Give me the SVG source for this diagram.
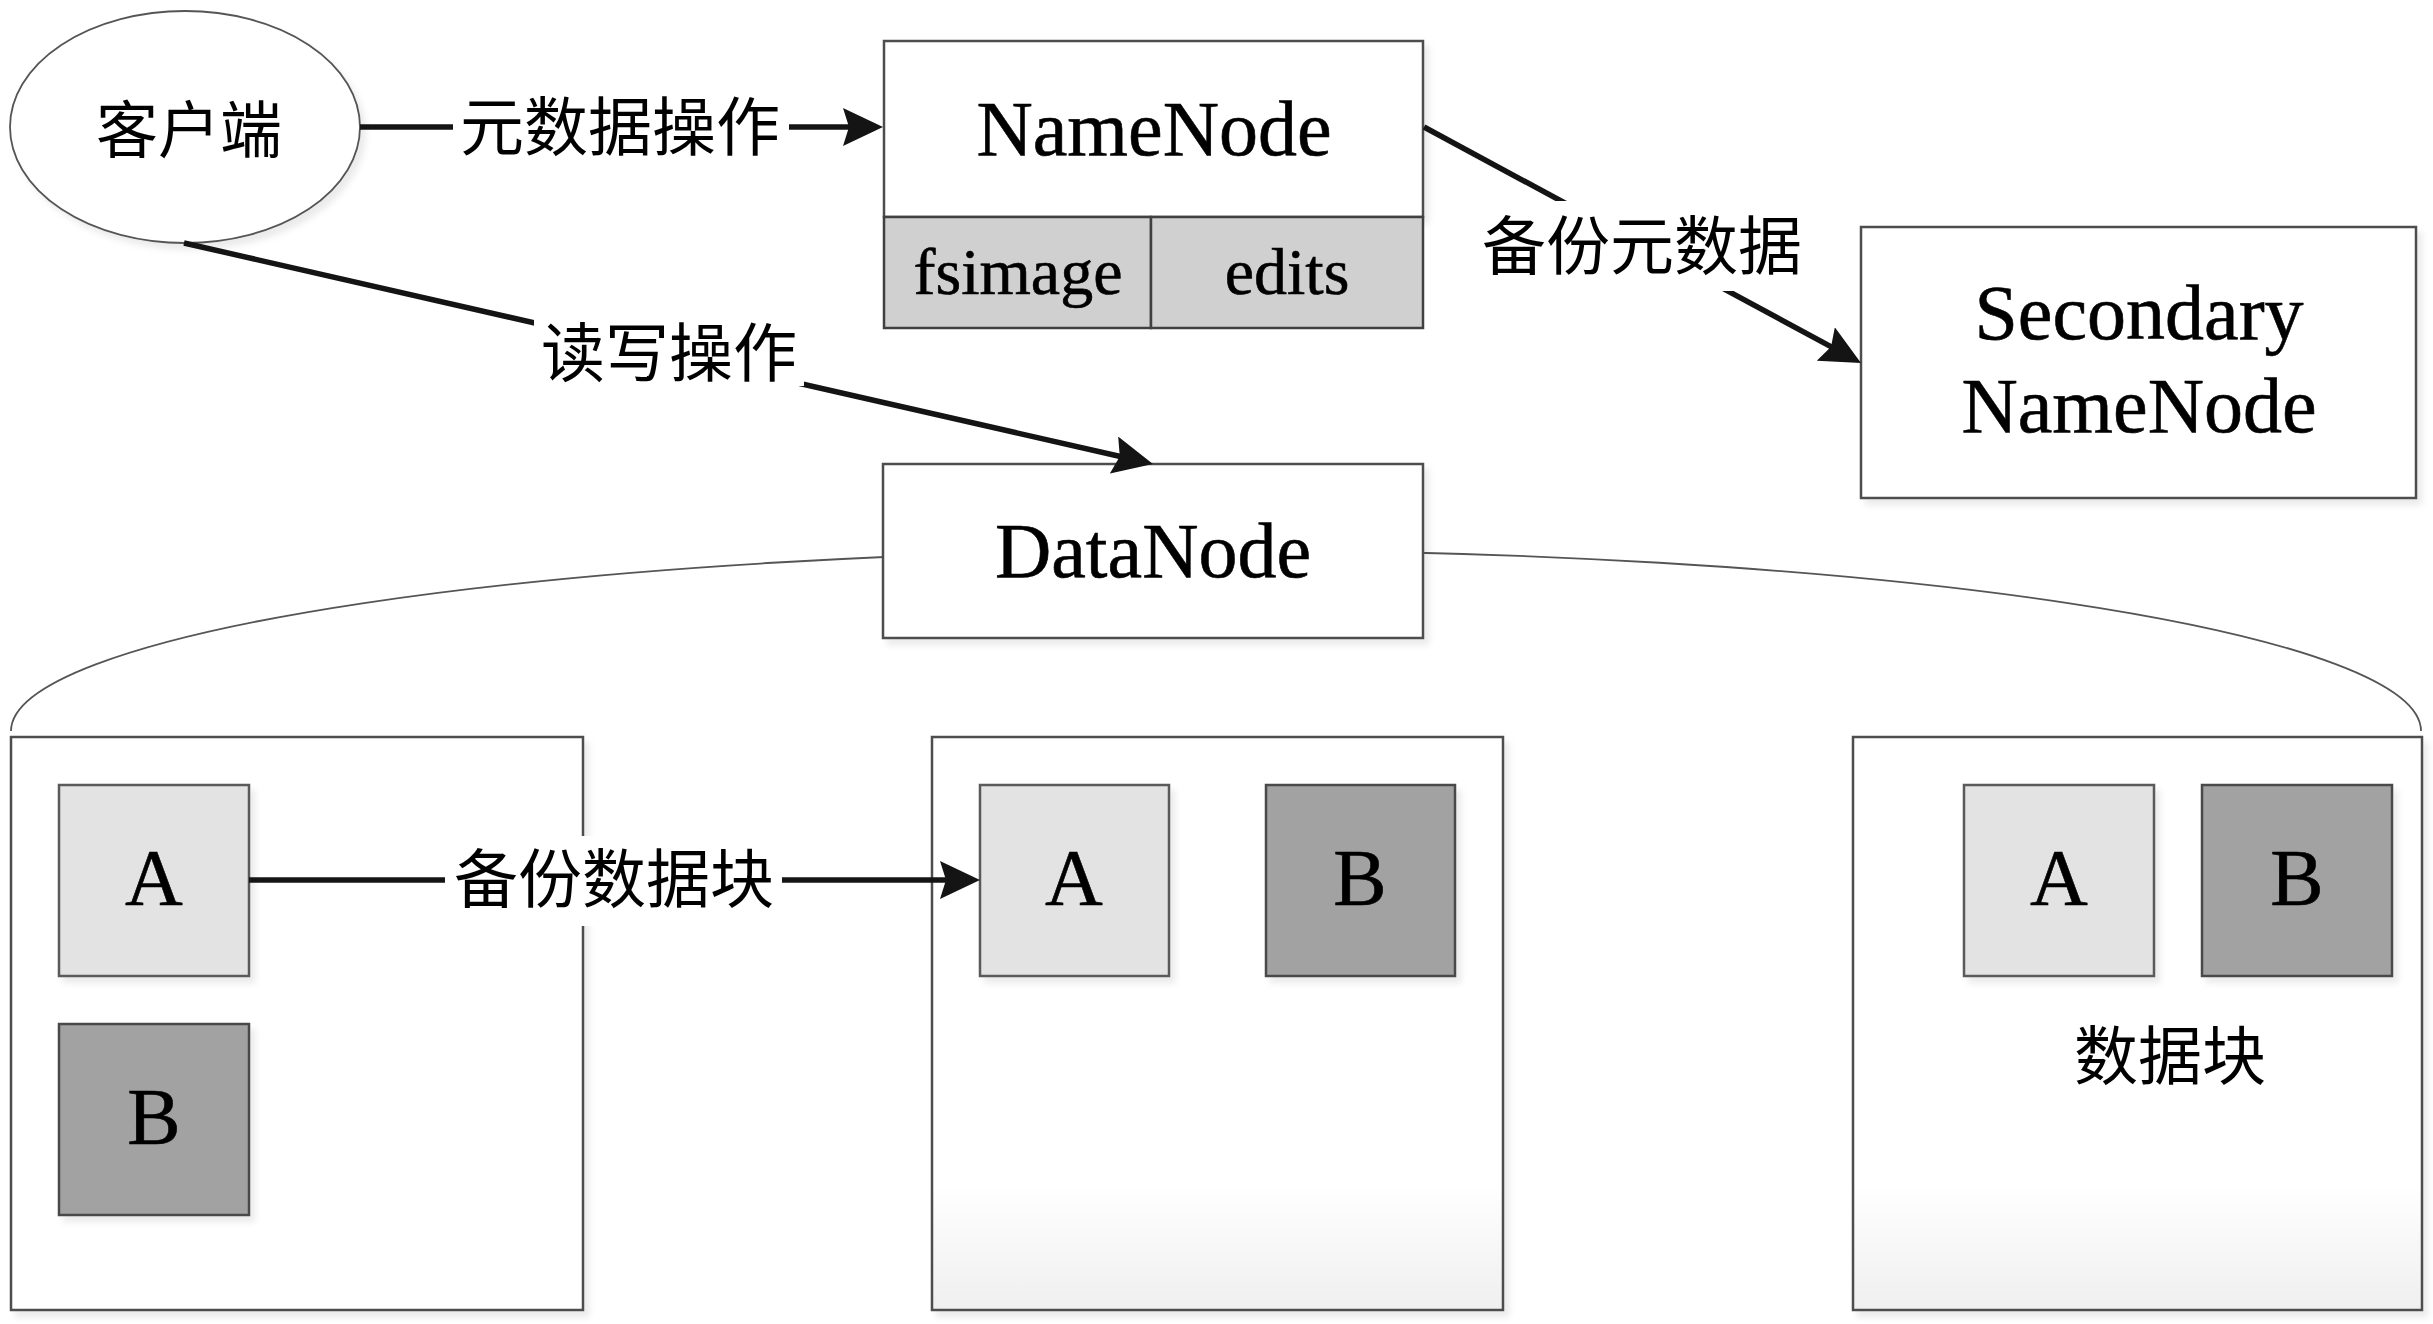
<svg xmlns="http://www.w3.org/2000/svg" width="2433" height="1324" viewBox="0 0 2433 1324">
  <style>
    .box { fill: #ffffff; stroke: #4d4d4d; stroke-width: 2.5; }
    .cell { fill: #d0d0d0; stroke: #404040; stroke-width: 2.5; }
    .blkA { fill: #e3e3e3; stroke: #5a5a5a; stroke-width: 2.5; }
    .blkB { fill: #a2a2a2; stroke: #4a4a4a; stroke-width: 2.5; }
    .lat { font-family: "Liberation Serif", "Times New Roman", serif; fill: #000; text-anchor: middle; stroke: #000; stroke-width: 0.6; }
    .cjk { font-family: "Noto Sans CJK SC", "Noto Sans CJK JP", sans-serif; fill: #000; text-anchor: middle; font-size: 64px; }
    .conn { stroke: #141414; stroke-width: 5.5; fill: none; }
    .lblbg { fill: #ffffff; }
    .arc { stroke: #555; stroke-width: 1.8; fill: none; }
  </style>
  <defs>
    <marker id="arrow" viewBox="0 0 40 38" refX="10" refY="19" markerWidth="40" markerHeight="38" markerUnits="userSpaceOnUse" orient="auto">
      <path d="M0,0 L40,19 L0,38 L6,19 z" fill="#141414"/>
    </marker>
    <linearGradient id="fade" x1="0" y1="0" x2="0" y2="1">
      <stop offset="0" stop-color="#ffffff"/>
      <stop offset="0.78" stop-color="#ffffff"/>
      <stop offset="1" stop-color="#efefef"/>
    </linearGradient>
    <filter id="sh" x="-5%" y="-5%" width="115%" height="115%">
      <feDropShadow dx="5" dy="6" stdDeviation="3" flood-color="#000" flood-opacity="0.08"/>
    </filter>
  </defs>

  <rect x="0" y="0" width="2433" height="1324" fill="#ffffff"/>

  <!-- DataNode cluster arc -->
  <path class="arc" d="M 11 731 A 1205 181 0 0 1 2421 731"/>

  <!-- Lower DataNode host boxes -->
  <g id="host1">
    <rect class="box" x="11" y="737" width="572" height="573" filter="url(#sh)"/>
  </g>
  <g id="host2">
    <rect class="box" x="932" y="737" width="571" height="573" style="fill:url(#fade)" filter="url(#sh)"/>
  </g>
  <g id="host3">
    <rect class="box" x="1853" y="737" width="569" height="573" style="fill:url(#fade)" filter="url(#sh)"/>
  </g>

  <g id="client">
    <ellipse cx="185" cy="127" rx="175" ry="116" fill="#ffffff" stroke="#555" stroke-width="1.8" filter="url(#sh)"/>
    <text class="cjk" x="189" y="153" style="font-size:62px">客户端</text>
  </g>

  <g id="namenode">
    <rect class="box" x="884" y="41" width="539" height="176" filter="url(#sh)"/>
    <text class="lat" x="1154" y="155" font-size="78">NameNode</text>
    <rect class="cell" x="884" y="217" width="267" height="111"/>
    <rect class="cell" x="1151" y="217" width="272" height="111"/>
    <text class="lat" x="1018" y="294" font-size="66">fsimage</text>
    <text class="lat" x="1287" y="294" font-size="66">edits</text>
  </g>

  <g id="secondary">
    <rect class="box" x="1861" y="227" width="555" height="271" filter="url(#sh)"/>
    <text class="lat" x="2139" y="339" font-size="78">Secondary</text>
    <text class="lat" x="2139" y="432" font-size="78">NameNode</text>
  </g>

  <g id="datanode">
    <rect class="box" x="883" y="464" width="540" height="174" filter="url(#sh)"/>
    <text class="lat" x="1153" y="577" font-size="78">DataNode</text>
  </g>

  <g id="h1A">
    <rect class="blkA" x="59" y="785" width="190" height="191" filter="url(#sh)"/>
    <text class="lat" x="154" y="905" font-size="80">A</text>
  </g>
  <g id="h1B">
    <rect class="blkB" x="59" y="1024" width="190" height="191" filter="url(#sh)"/>
    <text class="lat" x="154" y="1144" font-size="80">B</text>
  </g>
  <g id="h2A">
    <rect class="blkA" x="980" y="785" width="189" height="191" filter="url(#sh)"/>
    <text class="lat" x="1074" y="905" font-size="80">A</text>
  </g>
  <g id="h2B">
    <rect class="blkB" x="1266" y="785" width="189" height="191" filter="url(#sh)"/>
    <text class="lat" x="1360" y="905" font-size="80">B</text>
  </g>
  <g id="h3A">
    <rect class="blkA" x="1964" y="785" width="190" height="191" filter="url(#sh)"/>
    <text class="lat" x="2059" y="905" font-size="80">A</text>
  </g>
  <g id="h3B">
    <rect class="blkB" x="2202" y="785" width="190" height="191" filter="url(#sh)"/>
    <text class="lat" x="2297" y="905" font-size="80">B</text>
  </g>
  <g id="blocklabel">
    <text class="cjk" x="2170" y="1079">数据块</text>
  </g>

  <g id="connectors">
    <line class="conn" x1="360" y1="127" x2="853" y2="127" marker-end="url(#arrow)"/>
    <rect class="lblbg" x="453" y="94" width="336" height="66"/>
    <text class="cjk" x="620" y="150">元数据操作</text>

    <line class="conn" x1="184" y1="243" x2="1123.7" y2="457.3" marker-end="url(#arrow)"/>
    <rect class="lblbg" x="534" y="320" width="270" height="66"/>
    <text class="cjk" x="669" y="376">读写操作</text>

    <line class="conn" x1="1424" y1="127" x2="1834.6" y2="348.7" marker-end="url(#arrow)"/>
    <rect class="lblbg" x="1478" y="201" width="330" height="90"/>
    <text class="cjk" x="1642" y="269">备份元数据</text>

    <line class="conn" x1="249" y1="880" x2="950" y2="880" marker-end="url(#arrow)"/>
    <rect class="lblbg" x="445" y="836" width="337" height="90"/>
    <text class="cjk" x="614" y="902">备份数据块</text>
  </g>
</svg>
